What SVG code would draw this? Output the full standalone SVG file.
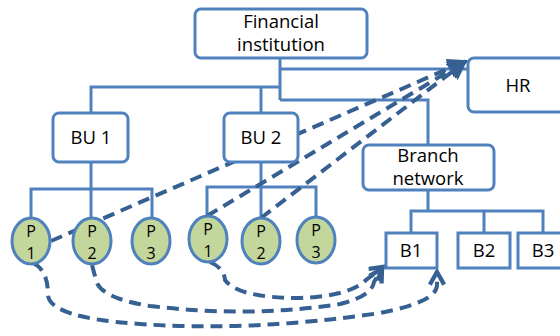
<svg xmlns="http://www.w3.org/2000/svg" width="560" height="336" viewBox="0 0 560 336">
  <style>
    .box { fill: #ffffff; stroke: #4F81BD; stroke-width: 3; }
    .person { fill: #C3D69B; stroke: #4F81BD; stroke-width: 3; }
    .tree { fill: none; stroke: #4F81BD; stroke-width: 3; }
    .flow { fill: none; stroke: #376092; stroke-width: 4; stroke-dasharray: 12 7; }
    text { font-family: "Open Sans", "Liberation Sans", sans-serif; font-size: 18.5px; fill: #000000; text-anchor: middle; }
    .small { font-size: 16px; }
  </style>
  <defs>
    <marker id="solidHead" viewBox="0 0 10 10" refX="9" refY="5" markerWidth="5" markerHeight="5" orient="auto" markerUnits="strokeWidth">
      <path d="M0,0 L10,5 L0,10 z" fill="#376092"/>
    </marker>
    <marker id="openHead" viewBox="0 0 10 10" refX="8" refY="5" markerWidth="4.5" markerHeight="4.5" orient="auto" markerUnits="strokeWidth">
      <path d="M1,1 L8,5 L1,9" fill="none" stroke="#376092" stroke-width="2.4"/>
    </marker>
  </defs>

  <!-- org-chart connectors -->
  <g id="connectors">
    <path class="tree" d="M280,58 V100 M280,69 H468 M280,100 H428 V145"/>
    <path class="tree" d="M91,113 V87 H280 M261,87 V113"/>
    <path class="tree" d="M91,162 V189 M31,218 V189 H152 V218 M91,189 V218"/>
    <path class="tree" d="M261,162 V187 M207,216 V187 H316 V217 M261,187 V218"/>
    <path class="tree" d="M428,190 V211 M411,233 V211 H543 V233 M484,211 V233"/>

    <!-- dashed links to HR -->
    <path class="flow" d="M51,241 L466,61" marker-end="url(#solidHead)"/>
    <path class="flow" d="M207,216 L466,61" marker-end="url(#solidHead)"/>
    <path class="flow" d="M261,218 L466,61" marker-end="url(#solidHead)"/>

    <!-- dashed links to branch B1 -->
    <path class="flow" d="M33,263 Q48,270 48,295 Q50,318 140,324 Q250,332 380,313 Q437,302 437,285 L437,272" marker-end="url(#openHead)"/>
    <path class="flow" d="M92,265 L96,280 Q100,298 150,306 Q250,318 340,304 Q372,296 374,282 L382,269" marker-end="url(#openHead)"/>
    <path class="flow" d="M210,262 Q224,268 225,280 Q238,298 300,298 Q350,296 366,280 L383,267" marker-end="url(#openHead)"/>
  </g>

  <g id="financial-institution">
    <rect class="box" x="195" y="9" width="172" height="49" rx="6"/>
    <text x="281" y="28">Financial</text>
    <text x="281" y="51">institution</text>
  </g>
  <g id="hr">
    <rect class="box" x="468" y="58" width="100" height="54" rx="6"/>
    <text x="518" y="92">HR</text>
  </g>
  <g id="bu1">
    <rect class="box" x="53" y="113" width="75" height="49" rx="6"/>
    <text x="91" y="144">BU 1</text>
  </g>
  <g id="bu2">
    <rect class="box" x="224" y="113" width="74" height="49" rx="6"/>
    <text x="261" y="144">BU 2</text>
  </g>
  <g id="branch-network">
    <rect class="box" x="363" y="145" width="131" height="45" rx="6"/>
    <text x="428" y="162">Branch</text>
    <text x="428" y="185">network</text>
  </g>

  <g id="bu1-p1">
    <ellipse class="person" cx="31" cy="241" rx="19" ry="23"/>
    <text class="small" x="31" y="236.5">P</text>
    <text class="small" x="31" y="258.5">1</text>
  </g>
  <g id="bu1-p2">
    <ellipse class="person" cx="92" cy="241" rx="19" ry="23"/>
    <text class="small" x="92" y="236.5">P</text>
    <text class="small" x="92" y="258.5">2</text>
  </g>
  <g id="bu1-p3">
    <ellipse class="person" cx="151" cy="241" rx="19" ry="23"/>
    <text class="small" x="151" y="236.5">P</text>
    <text class="small" x="151" y="258.5">3</text>
  </g>
  <g id="bu2-p1">
    <ellipse class="person" cx="208" cy="239" rx="19" ry="23"/>
    <text class="small" x="208" y="234.5">P</text>
    <text class="small" x="208" y="256.5">1</text>
  </g>
  <g id="bu2-p2">
    <ellipse class="person" cx="261" cy="241" rx="19" ry="23"/>
    <text class="small" x="261" y="236.5">P</text>
    <text class="small" x="261" y="258.5">2</text>
  </g>
  <g id="bu2-p3">
    <ellipse class="person" cx="316" cy="240" rx="19" ry="23"/>
    <text class="small" x="316" y="235.5">P</text>
    <text class="small" x="316" y="257.5">3</text>
  </g>

  <g id="b1">
    <rect class="box" x="386" y="233" width="51" height="35"/>
    <text x="411" y="257">B1</text>
  </g>
  <g id="b2">
    <rect class="box" x="458" y="233" width="52" height="35"/>
    <text x="484" y="257">B2</text>
  </g>
  <g id="b3">
    <rect class="box" x="518" y="233" width="52" height="35"/>
    <text x="543" y="257">B3</text>
  </g>
</svg>
